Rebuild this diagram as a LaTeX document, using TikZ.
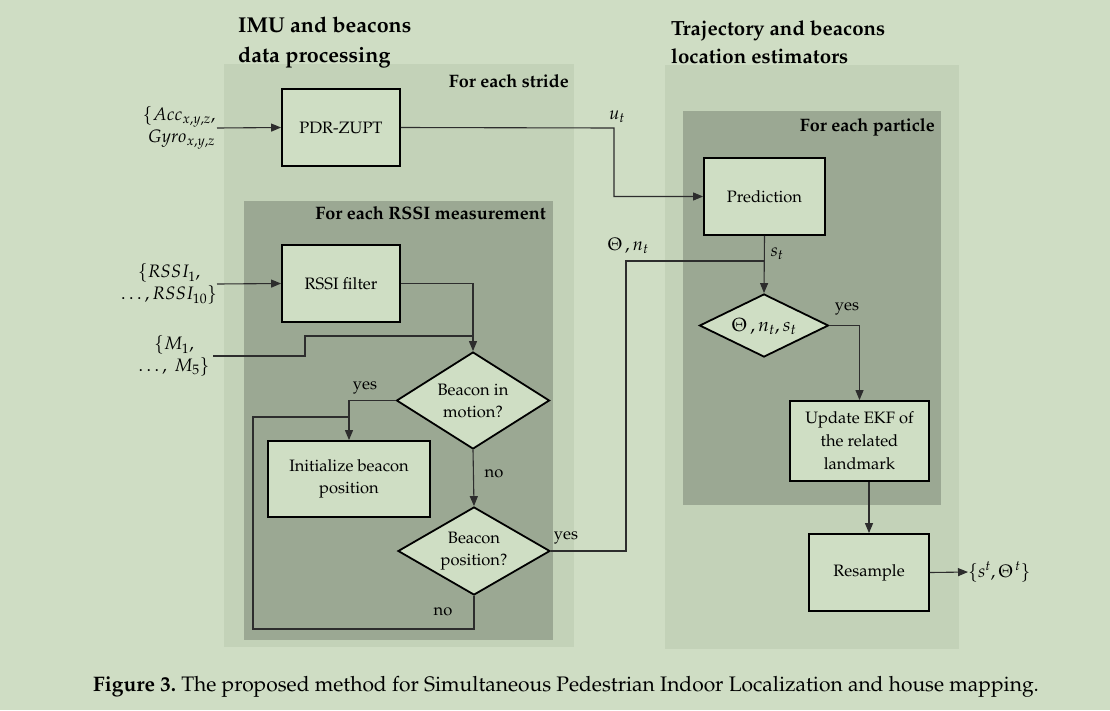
\documentclass[tikz,border=0pt]{standalone}
\usepackage[T1]{fontenc}
\usepackage{mathpazo}
\usetikzlibrary{shapes.geometric,arrows.meta,calc}
\definecolor{bgc}{RGB}{207,221,196}
\definecolor{outerc}{RGB}{195,210,184}
\definecolor{innerc}{RGB}{155,168,147}
\definecolor{boxc}{RGB}{207,222,196}
\definecolor{linec}{RGB}{45,45,45}
\tikzset{
  procbox/.style={draw=black, line width=1.8pt, fill=boxc, rectangle, align=center, font=\fontsize{16.5}{22}\selectfont},
  dia/.style={draw=black, line width=1.8pt, fill=boxc, diamond, inner sep=0pt},
  diatext/.style={align=center, font=\fontsize{16.5}{22}\selectfont},
  conn/.style={draw=linec, line width=1.1pt},
  arr/.style={conn, -{Triangle[length=10pt,width=8pt]}},
  lbl/.style={font=\fontsize{16.5}{20}\selectfont, inner sep=0pt},
  mlbl/.style={font=\fontsize{18}{21}\selectfont, inner sep=0pt},
  paneltitle/.style={font=\bfseries\fontsize{18}{22}\selectfont, inner sep=0pt},
  bigtitle/.style={font=\bfseries\fontsize{21.5}{30}\selectfont, align=left, inner sep=0pt},
}
\begin{document}
\begin{tikzpicture}[x=1pt,y=-1pt]
\useasboundingbox (0,0) rectangle (1110,710);
\fill[bgc] (0,0) rectangle (1110,710);
% panels
\fill[outerc] (224,64) rectangle (574,647);
\fill[innerc] (244,201) rectangle (553,640);
\fill[outerc] (665,65) rectangle (959,649);
\fill[innerc] (683,111) rectangle (941,505);
% titles
\node[bigtitle, anchor=north west] (t1) at (238,17) {IMU and beacons\\data processing};
\node[bigtitle, anchor=north west, font=\bfseries\fontsize{20.5}{28}\selectfont] (t2) at (671,20) {Trajectory and beacons\\location estimators};
\node[paneltitle, anchor=east] (p1) at (569,81) {For each stride};
\node[paneltitle, anchor=east] (p2) at (546,213) {For each RSSI measurement};
\node[paneltitle, anchor=east] (p3) at (935,127) {For each particle};
% boxes
\node[procbox, minimum width=118pt, minimum height=77pt] (pdr) at (341,127.5) {PDR-ZUPT};
\node[procbox, minimum width=118pt, minimum height=77pt] (rssi) at (341,283.5) {RSSI filter};
\node[procbox, minimum width=162pt, minimum height=76pt] (init) at (349,479) {Initialize beacon\\position};
\node[procbox, minimum width=121pt, minimum height=77pt] (pred) at (764.5,196.5) {Prediction};
\node[procbox, minimum width=139pt, minimum height=80pt, font=\fontsize{16.5}{23}\selectfont] (upd) at (859.5,441) {Update EKF of\\the related\\landmark};
\node[procbox, minimum width=120pt, minimum height=77pt] (res) at (869,572.5) {Resample};
% diamonds
\node[dia, minimum width=153pt, minimum height=97pt] (d1) at (473,400.5) {};
\node[diatext] (d1t) at (d1) {Beacon in\\motion?};
\node[dia, minimum width=152pt, minimum height=88pt] (d2) at (474,551) {};
\node[diatext] (d2t) at (d2) {Beacon\\position?};
\node[dia, minimum width=129pt, minimum height=63pt] (d3) at (764,325.5) {};
\node[diatext, font=\fontsize{19}{22}\selectfont] (d3t) at (764,326) {$\Theta\,,n_t,s_t$};
% inputs
\node[mlbl, align=center] (in1) at (179,128) {$\{Acc_{x,y,z},$\\[1pt]$\;Gyro_{x,y,z}$};
\coordinate (in1e) at (217,128);
\node[mlbl, align=center] (in2) at (169,284) {$\{RSSI_1,$\\[1pt]$\ldots,RSSI_{10}\}$};
\coordinate (in2e) at (217,284);
\node[mlbl, align=center] (in3) at (174,356) {$\{M_1,$\\[1pt]$\ldots,\ M_5\}$};
\coordinate (in3e) at (213,356);
\node[mlbl, anchor=west] (out) at (968,572) {$\{s^t,\Theta^{\,t}\}$};
% connectors
\draw[arr] (in1e) -- (pdr.west);
\draw[arr] (in2e) -- (rssi.west);
\coordinate (ut) at (614,128);
\draw[arr] (pdr.east) -- (ut) |- (pred.west);
\node[mlbl] (utl) at (617,117) {$u_t$};
\coordinate (j1) at (473,336);
\draw[arr] (rssi.east) -| (d1.north);
\draw[conn] (in3e) -- (305,356) -- (305,336) -- (j1);
\coordinate (j2) at (349,417);
\draw[arr] (d1.west) -| (init.north);
\node[lbl] (y1) at (365,388) {yes};
\draw[arr] (d1.south) -- (d2.north);
\node[lbl] (n1) at (494,474) {no};
\draw[conn] (d2.south) -- (474,629) -- (253,629) -- (253,417) -- (j2);
\node[lbl] (n2) at (443,612) {no};
\coordinate (j3) at (764,261);
\draw[conn] (d2.east) -- (626,551) -- (626,261) -- (j3);
\node[lbl] (y2) at (566,538) {yes};
\node[mlbl] (thl) at (628,246) {$\Theta\,,n_t$};
\draw[arr] (pred.south) -- (d3.north);
\node[mlbl] (stl) at (777,254) {$s_t$};
\draw[arr] (d3.east) -| (upd.north);
\node[lbl] (y3) at (847,309) {yes};
\draw[arr] (res.north |- upd.south) -- (res.north);
\draw[arr] (res.east) -- (out.west);
% caption
\node[anchor=west, inner sep=0pt, font=\fontsize{21}{24}\selectfont] (cap) at (93,687) {\textbf{Figure 3.}\ The proposed method for Simultaneous Pedestrian Indoor Localization and house mapping.};
\end{tikzpicture}
\end{document}
